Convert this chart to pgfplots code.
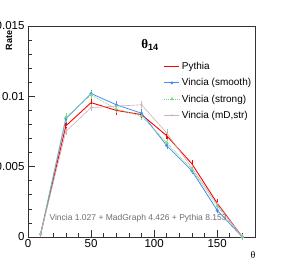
\documentclass[border=0pt]{standalone}
\usepackage{pgfplots}
\pgfplotsset{compat=1.18}
\usepackage{fontspec}
\setmainfont{Liberation Sans}
\newfontfamily\greekfont{Liberation Serif}
\definecolor{vsmooth}{RGB}{70,140,245}
\definecolor{vstrong}{RGB}{120,220,120}
\definecolor{vmd}{RGB}{200,180,180}
\definecolor{txtgrey}{RGB}{110,110,110}
\pgfplotstableread{
x   py      pye     sm      sme     st      ste     md      mde
10  0.0002  0.0001  0.0002  0.0001  0.0002  0.0001  0.0002  0.0001
30  0.0079  0.0002  0.0084  0.0002  0.0085  0.0002  0.0075  0.0002
50  0.00955 0.0002  0.0102  0.0002  0.0101  0.0002  0.0092  0.0002
70  0.0090  0.0002  0.0094  0.0002  0.0091  0.0002  0.0093  0.0002
90  0.0087  0.0002  0.0088  0.0002  0.0086  0.0002  0.0094  0.0002
110 0.0072  0.0002  0.0065  0.0002  0.0067  0.0002  0.0074  0.0002
130 0.0052  0.00015 0.0047  0.00015 0.0048  0.00015 0.0049  0.00015
150 0.0024  0.00015 0.0019  0.00015 0.0022  0.00015 0.0023  0.00015
170 0.0000  0.0001  0.0000  0.0001  0.0000  0.0001  0.0000  0.0001
}\data
\begin{document}
\begin{tikzpicture}[x=1pt,y=1pt]
\useasboundingbox (0,0) rectangle (284,264);
\begin{axis}[
  at={(28pt,27pt)}, anchor=south west,
  scale only axis, width=227pt, height=211pt,
  xmin=0, xmax=180, ymin=0, ymax=0.015,
  xtick={0,50,100,150}, minor xtick={10,20,30,40,60,70,80,90,110,120,130,140,160,170},
  ytick={0,0.005,0.01,0.015}, yticklabels={0,0.005,0.01,0.015},
  minor ytick={0.001,0.002,0.003,0.004,0.006,0.007,0.008,0.009,0.011,0.012,0.013,0.014},
  scaled y ticks=false,
  xtick pos=bottom, ytick pos=left, tick align=inside,
  major tick length=7pt, minor tick length=3.5pt,
  tick style={black!80, line width=0.6pt},
  axis line style={black!80, line width=0.6pt},
  ticklabel style={font=\fontsize{11.5}{13}\selectfont},
  xticklabel style={yshift=1pt},
  /pgf/number format/assume math mode=true,
  legend style={at={(0.585,0.848)}, anchor=north west, draw=none, fill=none,
    font=\fontsize{10}{12}\selectfont, row sep=3.5pt, legend cell align=left,
    /tikz/every even column/.append style={column sep=3pt}},
  legend image code/.code={\draw[#1] (0pt,0pt) -- (15pt,0pt); \draw[#1,solid] plot coordinates {(7.5pt,0pt)};},
  clip=false,
]
\addplot[red, line width=0.9pt, mark=none, error bars/.cd, y dir=both, y explicit, error bar style={line width=0.8pt}, error mark options={draw=none}] table[x=x, y=py, y error=pye] {\data};
\addlegendentry{Pythia}
\addplot[vsmooth, line width=0.8pt, mark=*, mark size=1.1pt, error bars/.cd, y dir=both, y explicit, error mark options={draw=none}] table[x=x, y=sm, y error=sme] {\data};
\addlegendentry{Vincia (smooth)}
\addplot[vstrong, line width=0.8pt, densely dotted, mark=triangle*, mark size=1.3pt, mark options={solid}, error bars/.cd, y dir=both, y explicit, error mark options={draw=none}] table[x=x, y=st, y error=ste] {\data};
\addlegendentry{Vincia (strong)}
\addplot[vmd, line width=0.6pt, mark=*, mark size=0.7pt, error bars/.cd, y dir=both, y explicit, error mark options={draw=none}] table[x=x, y=md, y error=mde] {\data};
\addlegendentry{Vincia (mD,str)}
\end{axis}
\node[rotate=90, anchor=east, font=\bfseries\fontsize{9}{10}\selectfont] at (9,237) {Rate};
\node[font=\bfseries\fontsize{13}{15}\selectfont] at (150,219) {{\greekfont θ}\textsubscript{14}};
\node[anchor=west, text=txtgrey, font=\fontsize{8.5}{10}\selectfont] at (46,46) {Vincia 1.027 + MadGraph 4.426 + Pythia 8.153};
\node[font=\fontsize{10}{11}\selectfont] at (253,9) {\greekfont θ};
\end{tikzpicture}
\end{document}
